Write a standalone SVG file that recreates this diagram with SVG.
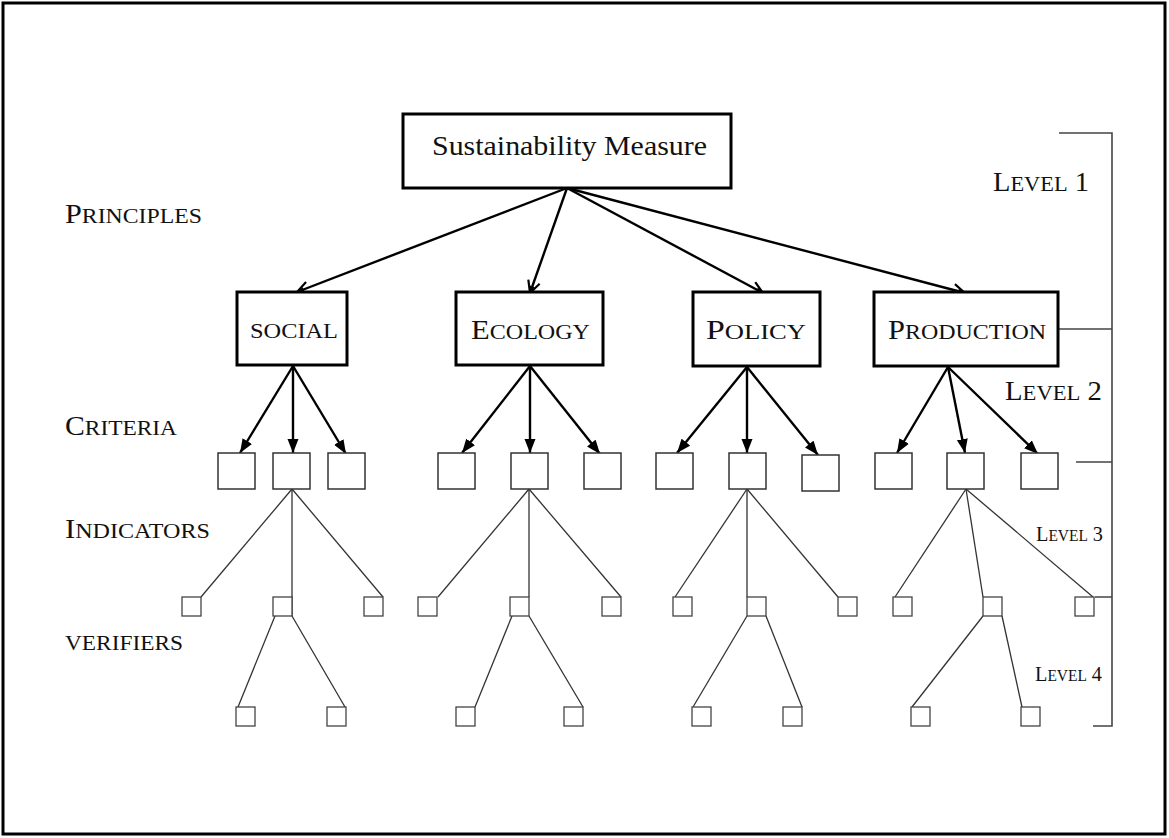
<svg xmlns="http://www.w3.org/2000/svg" width="1169" height="838" viewBox="0 0 1169 838">
<style>
.t{font-family:"Liberation Serif","Times New Roman",Times,serif;fill:#111;font-size:22px}
.b{font-size:28px}
.s3{font-size:21px}
.s3s{font-size:16px}
.main{stroke:#000;stroke-width:3;fill:#fff}
.crit{stroke:#333;stroke-width:1.5;fill:#fff}
.small{stroke:#444;stroke-width:1.3;fill:#fff}
.arr{stroke:#000;stroke-width:2.4;fill:none}
.ln{stroke:#333;stroke-width:1.3;fill:none}
.br{stroke:#444;stroke-width:1.6;fill:none}
</style>
<defs>
<marker id="open" viewBox="0 0 16 16" refX="14" refY="8" markerWidth="16" markerHeight="16" markerUnits="userSpaceOnUse" orient="auto"><path d="M2,2 L14,8 L2,14" fill="none" stroke="#000" stroke-width="2.2"/><path d="M7,5.5 L14,8 L7,10.5 z" fill="#000"/></marker>
<marker id="fill" viewBox="0 0 14 12" refX="14" refY="6" markerWidth="14" markerHeight="12" markerUnits="userSpaceOnUse" orient="auto"><path d="M0,0.5 L14,6 L0,11.5 z" fill="#000"/></marker>
</defs>
<rect width="1169" height="838" fill="#fff"/>
<rect x="3" y="3" width="1162" height="831" fill="none" stroke="#000" stroke-width="3"/>

<g id="labels">
<text class="t" x="65" y="223" textLength="137" lengthAdjust="spacingAndGlyphs"><tspan class="b">P</tspan>RINCIPLES</text>
<text class="t" x="65" y="435" textLength="112" lengthAdjust="spacingAndGlyphs"><tspan class="b">C</tspan>RITERIA</text>
<text class="t" x="65" y="538" textLength="145" lengthAdjust="spacingAndGlyphs"><tspan class="b">I</tspan>NDICATORS</text>
<text class="t" x="65" y="650" textLength="118" lengthAdjust="spacingAndGlyphs">VERIFIERS</text>
<text class="t" x="993" y="191" textLength="96" lengthAdjust="spacingAndGlyphs"><tspan class="b">L</tspan>EVEL<tspan class="b"> 1</tspan></text>
<text class="t" x="1005" y="400" textLength="97" lengthAdjust="spacingAndGlyphs"><tspan class="b">L</tspan>EVEL<tspan class="b"> 2</tspan></text>
<text class="t" x="1036" y="541" textLength="67" lengthAdjust="spacingAndGlyphs"><tspan class="s3">L</tspan><tspan class="s3s">EVEL</tspan><tspan class="s3"> 3</tspan></text>
<text class="t" x="1035" y="681" textLength="67" lengthAdjust="spacingAndGlyphs"><tspan class="s3">L</tspan><tspan class="s3s">EVEL</tspan><tspan class="s3"> 4</tspan></text>
</g>

<g id="bracket">
<path class="br" d="M1059,133 H1112 V726 H1093 M1058,329 H1112 M1076,462 H1112 M1095,597 H1112"/>
</g>

<g id="connectors">
<g class="arr">
<line x1="567" y1="188" x2="297" y2="292" marker-end="url(#open)"/>
<line x1="567" y1="188" x2="530" y2="293" marker-end="url(#open)"/>
<line x1="567" y1="188" x2="763" y2="293" marker-end="url(#open)"/>
<line x1="567" y1="188" x2="965" y2="293" marker-end="url(#open)"/>
<line x1="293" y1="366" x2="240" y2="453" marker-end="url(#fill)"/>
<line x1="293" y1="366" x2="293" y2="453" marker-end="url(#fill)"/>
<line x1="293" y1="366" x2="346" y2="454" marker-end="url(#fill)"/>
<line x1="530" y1="366" x2="462" y2="453" marker-end="url(#fill)"/>
<line x1="530" y1="366" x2="530" y2="453" marker-end="url(#fill)"/>
<line x1="530" y1="366" x2="600" y2="454" marker-end="url(#fill)"/>
<line x1="747" y1="367" x2="677" y2="453" marker-end="url(#fill)"/>
<line x1="747" y1="367" x2="747" y2="453" marker-end="url(#fill)"/>
<line x1="747" y1="367" x2="818" y2="455" marker-end="url(#fill)"/>
<line x1="948" y1="367" x2="897" y2="453" marker-end="url(#fill)"/>
<line x1="948" y1="367" x2="965" y2="453" marker-end="url(#fill)"/>
<line x1="948" y1="367" x2="1038" y2="454" marker-end="url(#fill)"/>
</g>
<g class="ln">
<line x1="292" y1="489" x2="201" y2="597"/>
<line x1="292" y1="489" x2="292" y2="616"/>
<line x1="292" y1="489" x2="383" y2="597"/>
<line x1="529" y1="489" x2="438" y2="597"/>
<line x1="529" y1="489" x2="529" y2="597"/>
<line x1="529" y1="489" x2="621" y2="597"/>
<line x1="747" y1="489" x2="675" y2="597"/>
<line x1="747" y1="489" x2="747" y2="597"/>
<line x1="747" y1="489" x2="838" y2="597"/>
<line x1="966" y1="489" x2="895" y2="597"/>
<line x1="966" y1="489" x2="983" y2="597"/>
<line x1="966" y1="489" x2="1093" y2="597"/>
<line x1="275" y1="616" x2="238" y2="707"/>
<line x1="292" y1="616" x2="345" y2="707"/>
<line x1="512" y1="616" x2="475" y2="707"/>
<line x1="529" y1="616" x2="583" y2="707"/>
<line x1="747" y1="616" x2="693" y2="707"/>
<line x1="766" y1="616" x2="802" y2="707"/>
<line x1="983" y1="616" x2="912" y2="707"/>
<line x1="1002" y1="616" x2="1022" y2="707"/>
</g>
</g>

<g id="sustainability">
<rect class="main" x="403" y="114" width="328" height="74"/>
<text class="t" x="432" y="155" style="font-size:28px" textLength="275" lengthAdjust="spacingAndGlyphs">Sustainability Measure</text>
</g>
<g id="social">
<rect class="main" x="237" y="292" width="110" height="73"/>
<text class="t" x="250" y="338" textLength="88" lengthAdjust="spacingAndGlyphs">SOCIAL</text>
</g>
<g id="ecology">
<rect class="main" x="456" y="292" width="147" height="73"/>
<text class="t" x="471" y="339" textLength="119" lengthAdjust="spacingAndGlyphs"><tspan class="b">E</tspan>COLOGY</text>
</g>
<g id="policy">
<rect class="main" x="693" y="292" width="127" height="74"/>
<text class="t" x="706" y="339" textLength="100" lengthAdjust="spacingAndGlyphs"><tspan class="b">P</tspan>OLICY</text>
</g>
<g id="production">
<rect class="main" x="874" y="292" width="184" height="74"/>
<text class="t" x="888" y="339" textLength="158" lengthAdjust="spacingAndGlyphs"><tspan class="b">P</tspan>RODUCTION</text>
</g>

<g id="criteria">
<rect id="c-s1" class="crit" x="218" y="453" width="37" height="36"/>
<rect id="c-s2" class="crit" x="273" y="453" width="37" height="36"/>
<rect id="c-s3" class="crit" x="328" y="453" width="37" height="36"/>
<rect id="c-e1" class="crit" x="438" y="453" width="37" height="36"/>
<rect id="c-e2" class="crit" x="511" y="453" width="37" height="36"/>
<rect id="c-e3" class="crit" x="584" y="453" width="37" height="36"/>
<rect id="c-p1" class="crit" x="656" y="453" width="37" height="36"/>
<rect id="c-p2" class="crit" x="729" y="453" width="37" height="36"/>
<rect id="c-p3" class="crit" x="802" y="455" width="37" height="36"/>
<rect id="c-r1" class="crit" x="875" y="453" width="37" height="36"/>
<rect id="c-r2" class="crit" x="947" y="453" width="37" height="36"/>
<rect id="c-r3" class="crit" x="1021" y="453" width="37" height="36"/>
</g>

<g id="indicators">
<rect id="i-s1" class="small" x="182" y="597" width="19" height="19"/>
<rect id="i-s2" class="small" x="273" y="597" width="19" height="19"/>
<rect id="i-s3" class="small" x="364" y="597" width="19" height="19"/>
<rect id="i-e1" class="small" x="418" y="597" width="19" height="19"/>
<rect id="i-e2" class="small" x="510" y="597" width="19" height="19"/>
<rect id="i-e3" class="small" x="602" y="597" width="19" height="19"/>
<rect id="i-p1" class="small" x="673" y="597" width="19" height="19"/>
<rect id="i-p2" class="small" x="747" y="597" width="19" height="19"/>
<rect id="i-p3" class="small" x="838" y="597" width="19" height="19"/>
<rect id="i-r1" class="small" x="893" y="597" width="19" height="19"/>
<rect id="i-r2" class="small" x="983" y="597" width="19" height="19"/>
<rect id="i-r3" class="small" x="1075" y="597" width="19" height="19"/>
</g>

<g id="verifiers">
<rect id="v-s1" class="small" x="236" y="707" width="19" height="19"/>
<rect id="v-s2" class="small" x="327" y="707" width="19" height="19"/>
<rect id="v-e1" class="small" x="456" y="707" width="19" height="19"/>
<rect id="v-e2" class="small" x="564" y="707" width="19" height="19"/>
<rect id="v-p1" class="small" x="692" y="707" width="19" height="19"/>
<rect id="v-p2" class="small" x="783" y="707" width="19" height="19"/>
<rect id="v-r1" class="small" x="911" y="707" width="19" height="19"/>
<rect id="v-r2" class="small" x="1021" y="707" width="19" height="19"/>
</g>
</svg>
